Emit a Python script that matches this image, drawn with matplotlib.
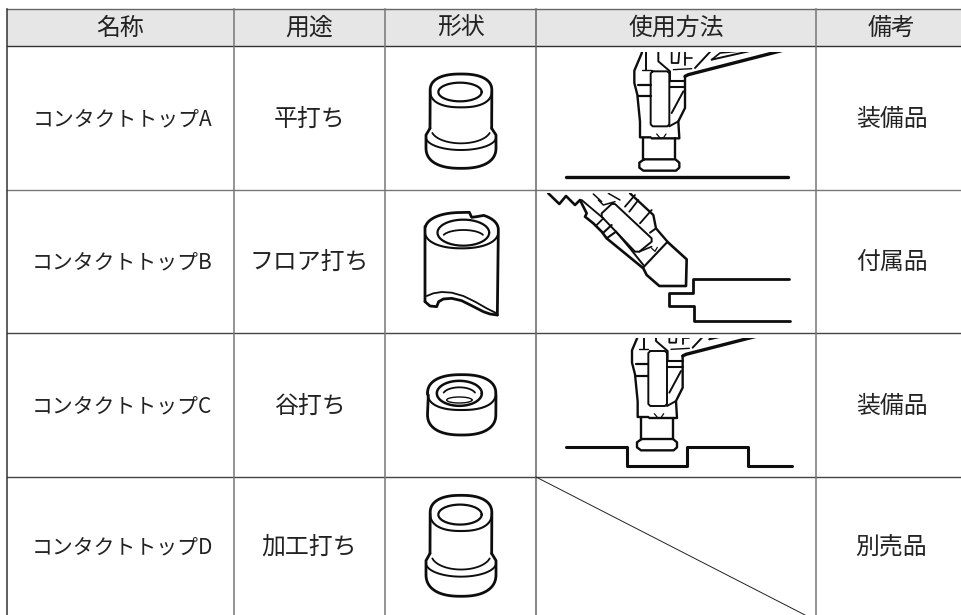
import numpy as np
import matplotlib
matplotlib.use("Agg")
import matplotlib.pyplot as plt
from matplotlib.patches import Rectangle

plt.rcParams['font.family'] = ['Noto Sans CJK JP', 'DejaVu Sans']

headers = ['名称', '用途', '形状', '使用方法', '備考']
names = ['コンタクトトップA', 'コンタクトトップB', 'コンタクトトップC', 'コンタクトトップD']
uses = ['平打ち', 'フロア打ち', '谷打ち', '加工打ち']
remarks = ['装備品', '付属品', '装備品', '別売品']

col_x = [7, 234, 385, 536, 816, 967]
row_y = [8.5, 46, 190, 333, 477, 615]
row_col = ['#666666', '#333333', '#777777', '#444444', '#444444']
col_col = ['#333333', '#777777', '#777777', '#666666', '#777777']

fig = plt.figure(figsize=(9.61, 6.15), dpi=100)
ax = fig.add_axes([0, 0, 1, 1])
ax.set_xlim(0, 961)
ax.set_ylim(615, 0)
ax.axis('off')

INK = '#0d0d0d'
THICK = 2.0
TOOL = 1.7
TXT = '#222222'


def zoomed(ox=380, oy=0, dx=0, dy=0, sy=1.0, y0=0):
    def f(p):
        p = np.asarray(p, float)
        return np.c_[ox + (p[:, 0] + dx) / 3, oy + (y0 + (p[:, 1] - y0) * sy + dy) / 3]
    return f


def arc(cx, cy, w, h, a0=0, a1=360, n=2.0):
    t = np.radians(np.linspace(a0, a1, 80))
    c, s = np.cos(t), np.sin(t)
    return np.c_[cx + w / 2 * np.sign(c) * np.abs(c) ** (2 / n),
                 cy - h / 2 * np.sign(s) * np.abs(s) ** (2 / n)]


def stroke(tf, pts, lw=THICK, clip=None):
    q = tf(pts)
    ln, = ax.plot(q[:, 0], q[:, 1], color=INK, lw=lw, solid_capstyle='round',
                  solid_joinstyle='round', zorder=3)
    if clip is not None:
        ln.set_clip_path(clip)
    return ln


def collar_shape(tf):
    s = lambda p, lw=THICK: stroke(tf, p, lw)
    s(np.vstack([[(150, 385)], arc(243, 272, 185, 100, 180, 0, 2.4), [(335, 385)]]))
    s(arc(243, 272, 185, 100, 180, 360, 2.4), 1.5)
    s(arc(240, 276, 130, 56), 1.6)
    s(arc(243, 388, 178, 84, 195, 345), 1.3)
    s(np.vstack([[(150, 385), (138, 405), (138, 440)], arc(243, 442, 210, 126, 180, 360, 2.4),
                 [(348, 440), (348, 405), (335, 385)]]))
    s(arc(243, 412, 210, 76, 180, 360), 1.4)


def ring_shape(tf):
    s = lambda p, lw=THICK: stroke(tf, p, lw)
    s(arc(245, 222, 205, 116, 180, 0, 2.4))
    s(arc(245, 218, 205, 104, 180, 360, 2.4), 1.5)
    s(arc(238, 220, 135, 75), 1.8)
    s(arc(238, 226, 100, 48, 20, 160), 1.3)
    s(arc(238, 240, 76, 18), 1.0)
    s(np.vstack([[(145, 225)], arc(245, 282, 205, 126, 180, 360, 2.4), [(348, 225)]]))


def sleeve_shape(tf):
    s = lambda p, lw=THICK: stroke(tf, p, lw)
    s(np.vstack([[(135, 905), (135, 680)], arc(245, 690, 220, 105, 170, 95, 2.2),
                 [(268, 637), (275, 652), (290, 650)], arc(245, 690, 220, 105, 55, 0, 2.2),
                 [(355, 690), (352, 945)]]))
    s(arc(245, 695, 220, 100, 190, 350, 2.2), 1.5)
    s(arc(250, 698, 155, 78), 1.6)
    s(arc(250, 712, 125, 44, 20, 160), 1.3)
    s([(135, 905), (150, 918), (170, 920), (176, 905), (190, 897), (215, 895), (245, 902),
       (275, 917), (310, 935), (330, 942), (352, 945)], 2.0)
    s([(140, 888), (160, 880), (185, 876), (215, 878), (250, 888), (285, 905), (320, 925), (350, 940)], 1.3)


def tool(tf, clip):
    s = lambda p, lw=TOOL: stroke(tf, p, lw, clip)
    # inner block
    s([(818, 214), (862, 214), (868, 220), (868, 373), (862, 379), (818, 379), (812, 373), (812, 220), (818, 214)], 1.4)
    # left body
    s([(790, 130), (785, 160), (763, 212), (763, 249), (772, 284), (780, 365), (780, 412), (812, 412)])
    s([(775, 254), (812, 254)], 1.6)
    s([(775, 289), (812, 289)], 1.6)
    # right body
    s([(915, 229), (915, 324), (895, 364), (898, 415), (815, 415)])
    s([(870, 244), (915, 244)], 1.5)
    s([(870, 262), (915, 262)], 1.5)
    s([(875, 339), (910, 274)], 1.4)
    s([(868, 379), (895, 364)], 1.4)
    # neck and tip
    s([(790, 415), (790, 478)])
    s([(885, 415), (885, 478)])
    s([(830, 402), (840, 414), (850, 414), (858, 402)], 0.9)
    s([(792, 478), (886, 478), (898, 488), (898, 503), (888, 512), (790, 512), (778, 503), (778, 488), (792, 478)])
    # upper mechanism
    s([(798, 130), (798, 209)], 1.4)
    s([(835, 130), (835, 184), (870, 214), (870, 244)], 1.4)
    s([(785, 209), (812, 209)], 1.0)
    s([(880, 209), (935, 206)], 1.0)
    s([(875, 130), (875, 189), (895, 189), (900, 130)], 1.3)
    s([(915, 194), (915, 130), (960, 130)], 1.3)
    s([(915, 174), (935, 174)], 1.2)
    s([(945, 204), (1000, 145)], 1.4)
    s([(915, 229), (925, 224), (1205, 152)], 2.4)
    s([(995, 179), (1020, 159), (1110, 150)], 1.2)
    s([(995, 179), (1110, 153)], 1.4)


# header band
ax.add_patch(Rectangle((col_x[0], row_y[0]), col_x[-1] - col_x[0], row_y[1] - row_y[0],
                       fc='#e6e6e6', ec='none', zorder=0))

# grid
for y, c in zip(row_y[:-1], row_col):
    ax.plot([col_x[0], col_x[-1]], [y, y], color=c, lw=1.0, zorder=1)
for x, c in zip(col_x[:-1], col_col):
    ax.plot([x, x], [row_y[0], row_y[-1]], color=c, lw=1.1, zorder=1)
ax.plot([col_x[3], 805], [row_y[4], 615], color='#222222', lw=0.7, zorder=1)

# text
centers = [(a + b) / 2 for a, b in zip(col_x[:-1], col_x[1:])]
for c, h in zip(centers, headers):
    ax.text(c, 28, h, ha='center', va='center', fontsize=17.2, color=TXT)
for i in range(4):
    ym = (row_y[i + 1] + row_y[i + 2]) / 2
    ax.text(centers[0] + 1.5, ym + 1, names[i], ha='center', va='center', fontsize=15, color=TXT)
    ax.text(centers[1], ym + 1, uses[i], ha='center', va='center', fontsize=17.2, color=TXT)
    ax.text(centers[4], ym + 1, remarks[i], ha='center', va='center', fontsize=17.2, color=TXT)

# shapes
collar_shape(zoomed())
sleeve_shape(zoomed())
ring_shape(zoomed(oy=320))
collar_shape(zoomed(oy=320, dy=304, y0=222, sy=1.07))

# usage A
clip_a = Rectangle((536, 52), 280, 130, transform=ax.transData)
tf = zoomed()
tool(tf, clip_a)
stroke(tf, [(558, 530), (1225, 530)], 2.4)

# usage C
clip_c = Rectangle((536, 338), 280, 130, transform=ax.transData)
tool(zoomed(oy=320, dx=-7, dy=-121), clip_c)
stroke(zoomed(oy=320), [(558, 382), (742, 382), (742, 438), (922, 438), (922, 382), (1105, 382),
                        (1105, 438), (1235, 438)], 2.2)

# usage B
clip_b = Rectangle((536, 193), 280, 130, transform=ax.transData)
tb = zoomed(ox=540, oy=190)
s = lambda p, lw=TOOL: stroke(tb, p, lw, clip_b)
s([(25, 10), (58, 42), (78, 18), (105, 45), (120, 30), (140, 70), (135, 80), (160, 100), (185, 125), (200, 145),
   (310, 235), (320, 255), (358, 288), (438, 288), (440, 208), (385, 158)], 1.9)
s([(270, 10), (340, 75), (348, 115), (385, 158)])
s([(215, 42), (225, 42), (335, 145), (335, 155), (298, 185), (285, 185), (185, 80), (185, 70), (215, 42)], 1.4)
s([(125, 30), (190, 85)], 1.3)
s([(170, 105), (190, 85)], 1.3)
s([(190, 128), (215, 105)], 1.5)
s([(200, 145), (228, 125)], 1.5)
s([(255, 50), (285, 15)], 1.3)
s([(268, 65), (295, 30)], 1.3)
s([(300, 100), (335, 60)], 1.3)
s([(330, 128), (348, 115)], 1.4)
s([(228, 125), (270, 175), (310, 225)], 1.4)
s([(310, 232), (380, 158)], 1.5)
s([(298, 185), (335, 170)], 1.2)
s([(335, 175), (345, 184), (352, 172)], 0.9)
s([(175, 30), (190, 45), (225, 35)], 1.1)
s([(205, 10), (240, 30)], 1.1)
s([(160, 12), (185, 35)], 1.1)
tf = zoomed()
stroke(tf, [(1228, 838), (940, 838), (940, 878), (868, 878), (868, 918), (942, 918), (942, 962),
            (1230, 962)], 2.0)

fig.savefig('out.png', dpi=100)
